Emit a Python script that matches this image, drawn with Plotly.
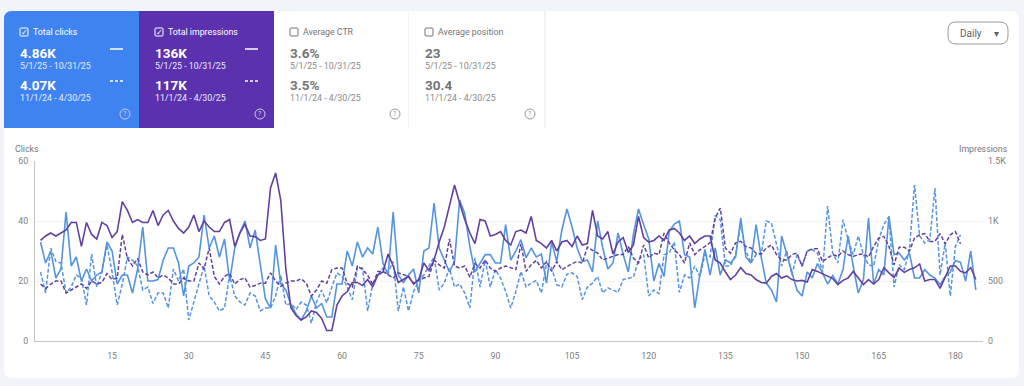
import plotly.graph_objects as go

clicks_current = [33,26,30,21,24,43,25,28,20,24,
 20,22,23,33,30,19,22,22,16,24,
 38,20,20,20.5,27,31,31,26,15,25,
 26,28,42,31,35,28,34,20,31,36,
 40,31,37,26,14,11,32,19,17,12,
 9,7,10,15,11,12.5,8,8,19,19,
 30,25,33,28,31,29,38,26,22,43,
 22,19.5,22,24,16,30,31,46,31,27,
 23,26.5,47,42.5,31.5,23,26,28.8,28.8,26,
 26,38.8,27,30,33.8,27.7,31,28,29,19.3,
 33,26.5,37,44,38,31,26.5,27,23,40,
 31,24,26,36,28.8,23,35.5,44,38.8,34,
 20,25.8,21.5,36.5,39,40,28.8,28,11,22,
 30.5,22,31,22,27,26,28,41,28,26,
 38.8,28,19.3,17,13,35,29,22.7,17,15,
 23,21,25.8,22.7,19,21.8,19,23.8,35,25,
 16,20.5,41,19,23.8,22,41.5,28.8,29.3,27,
 29.3,21,21,23.8,22,21,18.8,21.5,23,26.8,26.2,20,30,17]

clicks_previous = [23,16,31,26.5,26,16,18,22,21,12,
 29,18,23,32,23,12,19,28,27,25,
 17,18,12.5,16,16,11,24,20,24,7,
 13,19,25,15,13,10,11,22,15,13,
 12,16,15,10,11,11,15,22,12,12.5,
 10.5,13,12,6,13,17,12.7,18,22.7,21.5,
 18,13.8,24.3,24.3,10,19,22,24.3,23,26.5,
 10,18,10,16.5,20,22,25,28,17,19.3,
 24.3,18,19,16,11,27.7,18,27,18,23.8,
 21,16.5,11,16.5,23.2,18,19.3,20.2,16,26,
 24.3,18.8,18,22.3,22.7,21.5,13.8,18,19.3,21.5,
 16,17.7,17,16.2,20.5,21,21.3,27,28.8,15,
 17,15.8,28.8,29.3,33,16.2,22,21,25,21.5,
 28.8,28,41.8,40.4,25,25,28.8,39,30,26,
 28.8,28.8,40,39.4,32.7,25,30,22,28.8,25,
 30,30.4,29.3,23,45,29.3,26,40.4,33.8,28.8,
 35,28.8,25.4,24.9,33.8,38.8,41.5,18,25.4,23.8,
 30.4,52,35,32.7,33.8,51,22,32.7,15,31.6,35.4]

impressions_current = [838,875,900,875,900,925,988,988,788,988,
 888,850,988,962,862,912,1162,1088,988,1012,
 988,988,1088,962,1050,1088,1000,938,900,950,
 1050,912,1000,950,912,912,988,1012,788,900,975,875,
 870,838,850,1275,1400,1175,600,275,
 212,175,200,250,238,188,88,88,300,375,
 412,488,488,462,512,450,550,575,725,625,
 488,512,538,475,512,650,588,675,825,950,
 1125,1300,1150,1012,900,812,1012,1000,875,888,
 912,838,800,912,925,900,1038,838,812,775,
 838,750,825,838,788,875,800,812,1088,875,
 850,912,725,825,862,738,800,1038,862,825,
 838,875,838,925,938,900,838,875,812,850,
 875,875,675,650,575,512,550,612,562,550,
 512,488,482,538,562,525,542,512,500,505,
 492,595,580,562,542,520,470,505,525,580,
 525,470,512,475,512,612,568,530,608,572,
 595,610,642,500,512,512,438,525,625,625,580,568,612,512]

impressions_previous = [475,438,475,500,500,400,425,450,475,438,
 500,475,488,562,512,525,888,688,625,688,
 575,550,575,525,550,525,475,475,525,500,
 500,650,600,775,538,475,538,562,475,512,
 525,450,462,482,482,568,500,455,482,500,
 500,518,482,375,425,500,482,595,608,608,
 482,450,625,595,550,470,580,580,550,525,
 568,555,538,482,510,525,538,675,635,608,
 850,625,608,625,532,645,608,675,608,580,
 608,625,608,595,810,580,635,672,608,662,
 580,662,595,622,645,662,650,782,760,732,
 675,692,705,720,720,788,692,650,800,692,
 732,720,900,818,760,720,650,818,720,760,
 788,818,1025,1108,775,732,818,830,788,775,
 732,725,775,800,720,675,675,720,732,622,
 750,768,768,662,692,720,705,750,720,705,
 720,725,700,788,858,872,788,635,782,782,
 750,858,885,895,830,830,895,810,885,912,810]

x_ticks = [15,30,45,60,75,90,105,120,135,150,165,180]
clicks_ticks = [0,20,40,60]
impr_ticks = [0,500,1000,1500]
impr_labels = ["0","500","1K","1.5K"]

cards = [
 ("Total clicks", "4.86K", "4.07K", "5/1/25 - 10/31/25", "11/1/24 - 4/30/25"),
 ("Total impressions", "136K", "117K", "5/1/25 - 10/31/25", "11/1/24 - 4/30/25"),
 ("Average CTR", "3.6%", "3.5%", "5/1/25 - 10/31/25", "11/1/24 - 4/30/25"),
 ("Average position", "23", "30.4", "5/1/25 - 10/31/25", "11/1/24 - 4/30/25"),
]

W, H = 1024, 386
L, R, T, B = 35, 983, 161, 341
FONT = "Roboto, Arial, sans-serif"
BLUE_LINE = "#5594de"
PURPLE_LINE = "#62429f"

def px(v): return (v - L) / (R - L)
def py(v): return (B - v) / (B - T)

shapes, annots = [], []

def rrect(x0, y0, x1, y1, radii, fill=None, line=None, lw=1):
    """Rounded rectangle as a paper-space SVG path; radii = (tl, tr, br, bl)."""
    tl, tr, br, bl = radii
    X, Y = px, py
    d = (f"M {X(x0+tl)} {Y(y0)} L {X(x1-tr)} {Y(y0)} Q {X(x1)} {Y(y0)} {X(x1)} {Y(y0+tr)} "
         f"L {X(x1)} {Y(y1-br)} Q {X(x1)} {Y(y1)} {X(x1-br)} {Y(y1)} "
         f"L {X(x0+bl)} {Y(y1)} Q {X(x0)} {Y(y1)} {X(x0)} {Y(y1-bl)} "
         f"L {X(x0)} {Y(y0+tl)} Q {X(x0)} {Y(y0)} {X(x0+tl)} {Y(y0)} Z")
    shapes.append(dict(type="path", xref="paper", yref="paper", path=d,
                       fillcolor=fill or "rgba(0,0,0,0)",
                       line=dict(color=line or "rgba(0,0,0,0)", width=lw if line else 0), layer="below"))

def seg(x0, y0, x1, y1, color, dash="solid", lw=1.5):
    shapes.append(dict(type="line", xref="paper", yref="paper", x0=px(x0), x1=px(x1), y0=py(y0), y1=py(y1),
                       line=dict(color=color, width=lw, dash=dash), layer="below"))

def circle(cx, cy, r, color):
    shapes.append(dict(type="circle", xref="paper", yref="paper", x0=px(cx-r), x1=px(cx+r),
                       y0=py(cy+r), y1=py(cy-r), line=dict(color=color, width=1), layer="below"))

def text(x, y, s, size, color, anchor="left", bold=False):
    annots.append(dict(xref="paper", yref="paper", x=px(x), y=py(y), text=f"<b>{s}</b>" if bold else s,
                       showarrow=False, xanchor=anchor, yanchor="middle",
                       font=dict(family=FONT, size=size, color=color), borderpad=0, borderwidth=0))

rrect(4, 11, 1019, 378, (8, 8, 8, 8), fill="#ffffff")

card_x = [4, 139, 274, 409]
card_w = [135, 135, 135, 136]
fills = ["#3f83f0", "#5b31ad", "#ffffff", "#ffffff"]
radii = [(8, 0, 0, 0), (0, 0, 0, 0), (0, 0, 0, 0), (0, 0, 0, 0)]
for i, (c, x0, w, f, r) in enumerate(zip(cards, card_x, card_w, fills, radii)):
    active = i < 2
    rrect(x0, 11, x0 + w, 128, r, fill=f)
    if not active:
        seg(x0 + w, 11, x0 + w, 128, "#e8e8e8", lw=1)
    main = "#ffffff" if active else "#757575"
    sub = "#e6eeff" if active else "#8a8a8a"
    rrect(x0 + 16, 28, x0 + 24, 36, (1, 1, 1, 1), line=main, lw=1)
    if active:
        text(x0 + 20, 32, "✓", 8, main, "center")
    text(x0 + 29, 32, c[0], 8.8, main)
    text(x0 + 16, 53, c[1], 13.5, main, bold=True)
    text(x0 + 16, 66, c[3], 8.8, sub)
    text(x0 + 16, 85, c[2], 13.5, main, bold=True)
    text(x0 + 16, 98, c[4], 8.8, sub)
    circle(x0 + 121, 114, 5, "#c9c9e8" if active else "#9a9a9a")
    text(x0 + 121, 114, "?", 7, "#c9c9e8" if active else "#9a9a9a", "center")
    if active:
        seg(x0 + 106, 49, x0 + 119, 49, "#ffffff")
        seg(x0 + 106, 81, x0 + 119, 81, "#ffffff", dash="3px,2px")

rrect(948, 22, 1008, 44, (8, 8, 8, 8), line="#9a9a9a", lw=1, fill="#ffffff")
text(960, 33, "Daily", 10, "#5f6368")
text(997, 33, "▾", 10, "#5f6368", "center")
text(15, 149, "Clicks", 8.8, "#777777")
text(1008, 149, "Impressions", 8.8, "#777777", "right")

fig = go.Figure()
days = lambda v: list(range(1, len(v) + 1))
fig.add_trace(go.Scatter(x=days(clicks_previous), y=clicks_previous, mode="lines", yaxis="y",
                         line=dict(color=BLUE_LINE, width=1.5, dash="4px,2px"), name="Clicks (previous)"))
fig.add_trace(go.Scatter(x=days(impressions_previous), y=impressions_previous, mode="lines", yaxis="y2",
                         line=dict(color=PURPLE_LINE, width=1.5, dash="4px,2px"), name="Impressions (previous)"))
fig.add_trace(go.Scatter(x=days(clicks_current), y=clicks_current, mode="lines", yaxis="y",
                         line=dict(color=BLUE_LINE, width=1.6), name="Clicks"))
fig.add_trace(go.Scatter(x=days(impressions_current), y=impressions_current, mode="lines", yaxis="y2",
                         line=dict(color=PURPLE_LINE, width=1.6), name="Impressions"))

tickfont = dict(family=FONT, size=8.8, color="#808080")
fig.update_layout(
    width=W, height=H, autosize=False, showlegend=False,
    margin=dict(l=L, r=W - R, t=T, b=H - B, pad=0),
    paper_bgcolor="#f1f4f9", plot_bgcolor="rgba(0,0,0,0)",
    shapes=shapes, annotations=annots,
    xaxis=dict(range=[-0.08, 185.4], tickvals=x_ticks, showgrid=False, zeroline=False,
               showline=True, linecolor="#c4c4c4", linewidth=1, ticks="", tickfont=tickfont, ticklabelstandoff=6),
    yaxis=dict(range=[0, 60], tickvals=clicks_ticks, showgrid=True, gridcolor="#f4f4f4", zeroline=False,
               showline=True, linecolor="#c4c4c4", linewidth=1, ticks="", tickfont=tickfont, ticklabelstandoff=4),
    yaxis2=dict(range=[0, 1500], overlaying="y", side="right", tickvals=impr_ticks, ticktext=impr_labels,
                showgrid=False, zeroline=False, showline=False, ticks="", tickfont=tickfont, ticklabelstandoff=4),
)

fig.write_html("out.html", config=dict(displayModeBar=False),
               post_script="document.body.style.margin='0';document.body.style.overflow='hidden';")
